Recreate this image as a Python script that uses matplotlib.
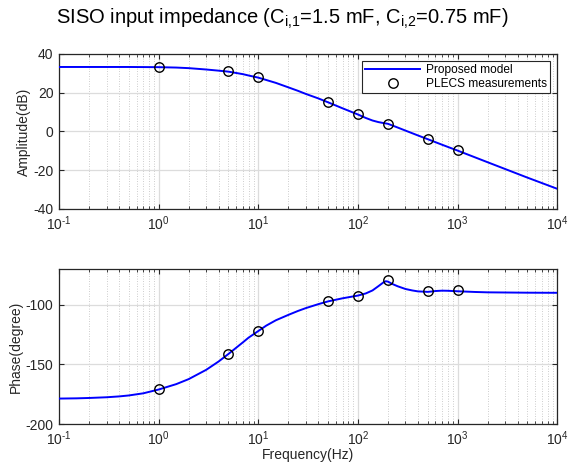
import numpy as np
import matplotlib
matplotlib.use("Agg")
import matplotlib.pyplot as plt
from matplotlib.ticker import LogLocator, NullFormatter, MultipleLocator, FuncFormatter

plt.rcParams['font.family'] = ['Liberation Sans', 'DejaVu Sans']
plt.rcParams['mathtext.fontset'] = 'custom'
plt.rcParams['mathtext.rm'] = 'Liberation Sans'
plt.rcParams['mathtext.default'] = 'regular'
plt.rcParams['axes.unicode_minus'] = False

# model curves
freq_amp = [0.1, 0.3, 0.5, 1, 1.5, 2, 3, 4, 5, 6, 7, 8, 10, 12, 15, 20, 25, 30,
            40, 50, 70, 100, 120, 140, 160, 180, 200, 250, 300, 400, 500, 700,
            1000, 2000, 5000, 10000]
amp_model = [33.2, 33.2, 33.2, 33.1, 32.9, 32.6, 31.9, 31.3, 30.8, 30.1, 29.5,
             28.8, 27.7, 26.5, 25.0, 22.7, 20.9, 19.3, 17.0, 15.0, 11.9, 8.7,
             6.9, 5.6, 4.8, 4.3, 3.9, 2.0, 0.4, -2.1, -4.0, -6.9, -9.9, -15.9,
             -23.8, -29.6]

freq_ph = [0.1, 0.15, 0.2, 0.3, 0.4, 0.5, 0.7, 1, 1.5, 2, 3, 4, 5, 6, 7, 8, 10,
           12, 15, 20, 25, 30, 40, 50, 70, 100, 120, 140, 160, 180, 190, 200,
           220, 250, 300, 350, 400, 500, 550, 600, 700, 800, 1000, 1500, 2000,
           5000, 10000]
phase_model = [-178.6, -178.4, -178.1, -177.5, -176.8, -176.0, -174.2, -171.0,
               -166.5, -162.3, -154.5, -147.5, -141.3, -136.0, -131.5, -127.5,
               -122.0, -117.5, -113.0, -108.5, -105.2, -102.8, -99.5, -97.2,
               -94.6, -92.3, -90.5, -88.0, -84.5, -81.3, -80.3, -80.6, -82.5,
               -84.5, -86.8, -88.0, -88.8, -89.2, -88.9, -88.5, -88.2, -88.3,
               -88.7, -89.3, -89.6, -89.9, -90.0]

# PLECS measurement points
freq_meas = [1, 5, 10, 50, 100, 200, 500, 1000]
amp_meas = [33.1, 31.1, 27.9, 15.1, 8.8, 3.9, -3.9, -9.8]
phase_meas = [-170.8, -141.1, -122.2, -96.7, -92.3, -79.2, -88.3, -87.7]


def decade_label(x, pos):
    e = int(round(np.log10(x)))
    if e < 0:
        return r'$10^{\text{-}%d}$' % (-e)
    return r'$10^{%d}$' % e


fig = plt.figure(figsize=(5.68, 4.76), dpi=100)
ax1 = fig.add_axes([0.104, 0.561, 0.877, 0.326])
ax2 = fig.add_axes([0.104, 0.109, 0.877, 0.326])

fig.text(0.497, 1 - 19 / 476,
         r'SISO input impedance (C$_{\text{i,1}}$=1.5 mF, C$_{\text{i,2}}$=0.75 mF)',
         ha='center', va='center', fontsize=14.5, color='black')

ax1.semilogx(freq_amp, amp_model, color=(0, 0, 1), lw=1.4, label='Proposed model', zorder=3)
ax1.semilogx(freq_meas, amp_meas, 'o', mfc='none', mec='black', ms=6.8, mew=1.0,
             label='PLECS measurements', zorder=4)
ax2.semilogx(freq_ph, phase_model, color=(0, 0, 1), lw=1.4, zorder=3)
ax2.semilogx(freq_meas, phase_meas, 'o', mfc='none', mec='black', ms=6.8, mew=1.0, zorder=4)

ax1.set_ylim(-40, 40)
ax1.yaxis.set_major_locator(MultipleLocator(20))
ax2.set_ylim(-200, -70)
ax2.set_yticks([-200, -150, -100])

for ax in (ax1, ax2):
    ax.set_xlim(0.1, 1e4)
    ax.xaxis.set_major_locator(LogLocator(base=10, numticks=10))
    ax.xaxis.set_major_formatter(FuncFormatter(decade_label))
    ax.xaxis.set_minor_locator(LogLocator(base=10, subs=np.arange(2, 10), numticks=20))
    ax.xaxis.set_minor_formatter(NullFormatter())
    ax.grid(True, which='major', color='#dcdcdc', lw=0.9, zorder=0)
    ax.grid(True, which='minor', axis='x', color='#bcbcbc', lw=0.6, ls=(0, (1, 2)), zorder=0)
    ax.tick_params(which='both', direction='in', top=True, right=True,
                   labelsize=10, colors='#262626', length=3.5, pad=4)
    ax.tick_params(which='minor', length=2)
    for s in ax.spines.values():
        s.set_color('#262626')
        s.set_linewidth(0.9)
    ax.set_axisbelow(True)

ax1.set_ylabel('Amplitude(dB)', fontsize=10, color='#262626', labelpad=2)
ax2.set_ylabel('Phase(degree)', fontsize=10, color='#262626', labelpad=2)
ax2.set_xlabel('Frequency(Hz)', fontsize=10, color='#262626', labelpad=0)

leg = ax1.legend(loc='upper right', fontsize=8.6, fancybox=False, framealpha=1,
                 edgecolor='#262626', borderpad=0.25, labelspacing=0.2,
                 handlelength=4.6, handletextpad=0.5, borderaxespad=0.6)
leg.get_frame().set_linewidth(0.8)

fig.savefig('out.png', dpi=100)
